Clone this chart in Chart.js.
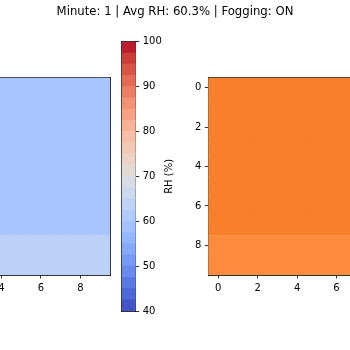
<!DOCTYPE html>
<html><head><meta charset="utf-8">
<script src="https://cdn.jsdelivr.net/npm/chart.js@4.4.1/dist/chart.umd.min.js"></script>
<style>
html,body{margin:0;padding:0;background:#fff;}
#wrap{position:relative;width:350px;height:350px;overflow:hidden;background:#fff;}
canvas{position:absolute;top:0;}
</style></head><body>
<div id="wrap">
<canvas id="left" width="350" height="350" style="left:-120px"></canvas>
<canvas id="right" width="450" height="350" style="left:0"></canvas>
<canvas id="cb" width="350" height="350" style="left:0"></canvas>
</div>
<script>
// ---------- data ----------
const titleText = 'Minute: 1 | Avg RH: 60.3% | Fogging: ON';
const cbLabel = 'RH (%)';
const rowIdx = [0, 1, 2, 3, 4, 5, 6, 7, 8, 9];
const colIdx = [0, 1, 2, 3, 4, 5, 6, 7, 8, 9];
const heatTicks = [0, 2, 4, 6, 8];
const cbTicks = [40, 50, 60, 70, 80, 90, 100];
const rhMin = 40, rhMax = 100;
// relative humidity grid (%), rows top->bottom
const rhGrid = [
  [59.6, 59.6, 59.6, 59.6, 59.6, 59.6, 59.6, 59.6, 59.6, 59.6],
  [59.6, 59.6, 59.6, 59.6, 59.6, 59.6, 59.6, 59.6, 59.6, 59.6],
  [59.6, 59.6, 59.6, 59.6, 59.6, 59.6, 59.6, 59.6, 59.6, 59.6],
  [59.6, 59.6, 59.6, 59.6, 59.6, 59.6, 59.6, 59.6, 59.6, 59.6],
  [59.6, 59.6, 59.6, 59.6, 59.6, 59.6, 59.6, 59.6, 59.6, 59.6],
  [59.6, 59.6, 59.6, 59.6, 59.6, 59.6, 59.6, 59.6, 59.6, 59.6],
  [59.6, 59.6, 59.6, 59.6, 59.6, 59.6, 59.6, 59.6, 59.6, 59.6],
  [59.6, 59.6, 59.6, 59.6, 59.6, 59.6, 59.6, 59.6, 59.6, 59.6],
  [63.0, 63.0, 63.0, 63.0, 63.0, 63.0, 63.0, 63.0, 63.0, 63.0],
  [63.0, 63.0, 63.0, 63.0, 63.0, 63.0, 63.0, 63.0, 63.0, 63.0]
];
// temperature grid (°C), rows top->bottom
const tempMin = 15, tempMax = 35;
const tempGrid = [
  [26.0, 26.0, 26.0, 26.0, 26.0, 26.0, 26.0, 26.0, 26.0, 26.0],
  [26.0, 26.0, 26.0, 26.0, 26.0, 26.0, 26.0, 26.0, 26.0, 26.0],
  [26.0, 26.0, 26.0, 26.0, 26.0, 26.0, 26.0, 26.0, 26.0, 26.0],
  [26.0, 26.0, 26.0, 26.0, 26.0, 26.0, 26.0, 26.0, 26.0, 26.0],
  [26.0, 26.0, 26.0, 26.0, 26.0, 26.0, 26.0, 26.0, 26.0, 26.0],
  [26.0, 26.0, 26.0, 26.0, 26.0, 26.0, 26.0, 26.0, 26.0, 26.0],
  [26.0, 26.0, 26.0, 26.0, 26.0, 26.0, 26.0, 26.0, 26.0, 26.0],
  [26.0, 26.0, 26.0, 26.0, 26.0, 26.0, 26.0, 26.0, 26.0, 26.0],
  [25.0, 25.0, 25.0, 25.0, 25.0, 25.0, 25.0, 25.0, 25.0, 25.0],
  [25.0, 25.0, 25.0, 25.0, 25.0, 25.0, 25.0, 25.0, 25.0, 25.0]
];
// colorbar band edges (RH %)
const cbEdges = [40, 42.5, 45, 47.5, 50, 52.5, 55, 57.5, 60, 62.5, 65, 67.5, 70, 72.5, 75, 77.5, 80, 82.5, 85, 87.5, 90, 92.5, 95, 97.5, 100];

// ---------- colormaps ----------
const coolwarmStops = [
  [59,76,192],[68,90,204],[77,104,215],[87,117,225],[98,130,234],[108,142,241],[119,154,247],[130,165,251],
  [141,176,254],[152,185,255],[163,194,255],[174,201,253],[184,208,249],[194,213,244],[204,217,238],[213,219,230],
  [221,221,221],[229,216,209],[236,211,197],[241,204,185],[245,196,173],[247,187,160],[247,177,148],[247,166,135],
  [244,154,123],[241,141,111],[236,127,99],[229,112,88],[222,96,77],[213,80,66],[203,62,56],[192,40,47],[180,4,38]
];
const orangesStops = [
  [255,245,235],[254,230,206],[253,208,162],[253,174,107],[253,141,60],[241,105,19],[217,72,1],[166,54,3],[127,39,4]
];
function cmap(stops, t) {
  t = Math.max(0, Math.min(1, t));
  const p = t * (stops.length - 1);
  const i = Math.min(Math.floor(p), stops.length - 2);
  const f = p - i;
  const a = stops[i], b = stops[i + 1];
  const c = a.map((v, k) => Math.round(v + (b[k] - v) * f));
  return `rgb(${c[0]},${c[1]},${c[2]})`;
}
const rhColor = v => cmap(coolwarmStops, (v - rhMin) / (rhMax - rhMin));
const tempColor = v => cmap(orangesStops, (v - tempMin) / (tempMax - tempMin));

// ---------- chart helpers ----------
const FONT = '"DejaVu Sans", sans-serif';
Chart.defaults.font.family = FONT;
Chart.defaults.font.size = 10;
Chart.defaults.color = '#000';
Chart.defaults.animation = false;

const border = {display: true, color: '#000', width: 0.8};
const tickGrid = {display: true, drawOnChartArea: false, drawTicks: true, tickLength: 3.5, color: '#000', lineWidth: 0.8, offset: false};
function frameAxis(axis, position, size) {
  return {
    type: 'linear', axis, position, display: true,
    ticks: {display: false},
    grid: {display: true, drawOnChartArea: false, drawTicks: false},
    border,
    afterFit(s) { if (s.isHorizontal()) s.height = size; else s.width = size; }
  };
}
function setTicks(list) {
  return s => { s.ticks = list.map(v => ({value: v})); };
}

function heatmap(id, grid, colorFn, yWidth, padRight) {
  const datasets = colIdx.map(c => ({
    data: rowIdx.map(r => ({x: [c - 0.5, c + 0.5], y: r})),
    backgroundColor: rowIdx.map(r => colorFn(grid[r][c])),
    borderWidth: 0, grouped: false, barPercentage: 1, categoryPercentage: 1
  }));
  return new Chart(document.getElementById(id), {
    type: 'bar',
    data: {datasets},
    options: {
      indexAxis: 'y', responsive: false, animation: false,
      layout: {padding: {left: 0, right: padRight, top: 77.7, bottom: 55}},
      plugins: {legend: {display: false}, tooltip: {enabled: false}, title: {display: false}},
      scales: {
        x: {type: 'linear', position: 'bottom', min: -0.5, max: 9.5, offset: false,
            ticks: {padding: 3.5, maxRotation: 0}, grid: tickGrid, border,
            afterBuildTicks: setTicks(heatTicks), afterFit(s) { s.height = 20; }},
        y: {type: 'linear', position: 'left', min: -0.5, max: 9.5, reverse: true, offset: false,
            ticks: {padding: 3.5}, grid: tickGrid, border,
            afterBuildTicks: setTicks(heatTicks), afterFit(s) { s.width = yWidth; }},
        x2: frameAxis('x', 'top', 0),
        y2: frameAxis('y', 'right', 0)
      }
    }
  });
}

heatmap('left', rhGrid, rhColor, 32.7, 120);
heatmap('right', tempGrid, tempColor, 208.3, 44.4);

// colorbar label drawn beside the colorbar's axis, reading upwards
const cbLabelPlugin = {
  id: 'cbLabel',
  afterDraw(chart) {
    const s = chart.scales.y;
    const ctx = chart.ctx;
    ctx.save();
    ctx.translate(s.left + 33.3, (s.top + s.bottom) / 2);
    ctx.rotate(-Math.PI / 2);
    ctx.font = '10px ' + FONT;
    ctx.fillStyle = '#000';
    ctx.textAlign = 'center';
    ctx.textBaseline = 'middle';
    ctx.fillText(cbLabel, 0, 0);
    ctx.restore();
  }
};

const cbDatasets = cbEdges.slice(0, -1).map((lo, i) => ({
  data: [[lo, cbEdges[i + 1]]],
  backgroundColor: rhColor((lo + cbEdges[i + 1]) / 2),
  borderWidth: 0, grouped: false, barPercentage: 1, categoryPercentage: 1
}));
new Chart(document.getElementById('cb'), {
  type: 'bar',
  data: {labels: [''], datasets: cbDatasets},
  plugins: [cbLabelPlugin],
  options: {
    responsive: false, animation: false,
    layout: {padding: {left: 0, right: 0, top: 0, bottom: 39}},
    plugins: {
      legend: {display: false}, tooltip: {enabled: false},
      title: {display: true, text: titleText, color: '#000',
              font: {size: 11.7, weight: 'normal', family: FONT},
              padding: {top: 5, bottom: 22.7}}
    },
    scales: {
      x: {type: 'category', position: 'bottom', offset: true,
          ticks: {display: false}, grid: {display: true, drawOnChartArea: false, drawTicks: false},
          border, afterFit(s) { s.height = 0; }},
      y: {type: 'linear', position: 'right', min: rhMin, max: rhMax,
          ticks: {padding: 3.5}, grid: tickGrid, border,
          afterBuildTicks: setTicks(cbTicks), afterFit(s) { s.width = 214.3; }},
      x2: frameAxis('x', 'top', 0),
      y2: frameAxis('y', 'left', 121.7)
    }
  }
});
</script>
</body></html>
